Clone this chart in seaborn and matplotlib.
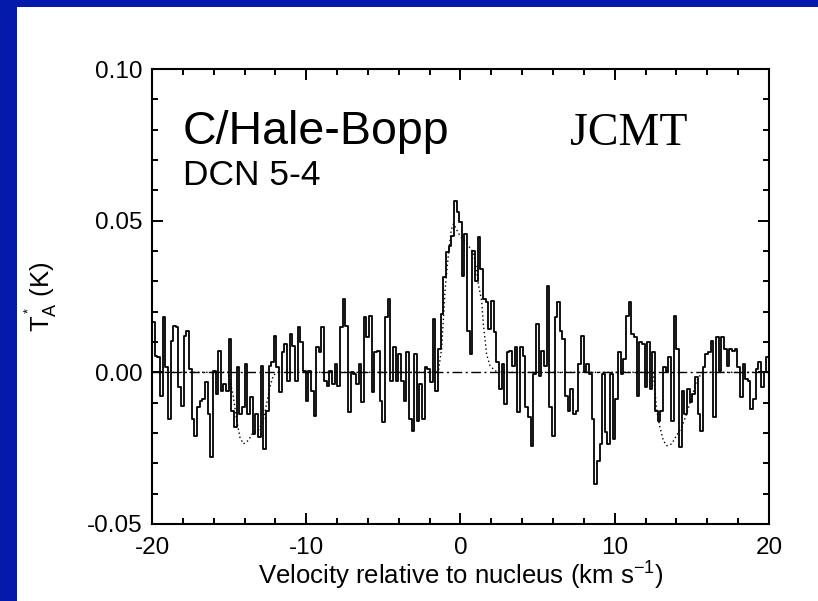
import numpy as np
import pandas as pd
import matplotlib
matplotlib.use('Agg')
import matplotlib.pyplot as plt
from matplotlib.patches import Rectangle
from matplotlib.ticker import MultipleLocator
import seaborn as sns

# DCN 5-4 spectrum of C/Hale-Bopp (JCMT), antenna temperature in mK per channel
spec_mK = [
    16.5, 5.5, 4.9, -7.7, 18.1, 1.6, -15.4, 10.4, 15.2, 14.8,
    -4.9, -11.0, 12.1, 13.7, 1.1, -15.4, -20.9, -11.5, -9.3, -8.8,
    -3.3, -13.7, -27.8, 0.5, -7.1, 7.1, -6.0, -3.8, -6.0, 11.0,
    -12.6, -18.1, 1.6, -13.7, -11.5, 2.7, -13.7, -8.2, -20.3, -13.7,
    -21.4, 2.2, -25.3, -12.6, 2.2, 3.3, 12.1, 1.6, -6.6, 6.6,
    9.3, -2.7, 12.6, 8.8, -2.7, 14.8, 9.9, 0.5, -9.3, 0.5,
    -6.0, -14.3, 8.2, 6.6, 14.8, -2.7, -4.4, 0.5, -3.8, 2.7,
    -4.4, 14.8, 24.2, 15.4, -13.2, 0.0, -0.5, -3.8, 2.7, -9.9,
    18.1, 11.5, 18.7, -6.6, 6.6, 7.1, -9.3, -16.5, 18.1, 24.2,
    -2.7, 8.2, -2.7, 6.0, -2.7, -9.3, 6.6, -15.4, -19.2, 6.0,
    -15.9, -3.8, -15.4, 1.6, 1.1, -3.3, 17.6, -6.0, 7.7, 19.2,
    31.3, 39.6, 41.8, 45.1, 56.6, 52.7, 49.5, 31.9, 45.6, 13.7,
    6.0, 40.1, 30.2, 44.5, 34.1, 24.2, 23.1, 14.3, 23.6, 13.2,
    3.3, -5.5, 2.7, -10.4, 6.6, 7.1, 2.2, 8.2, -13.2, 8.2,
    5.5, -11.5, -14.8, -24.2, -0.5, 15.9, -1.1, 7.1, 2.2, 28.6,
    -11.5, -20.9, 18.1, 23.1, 13.7, 11.0, -7.7, -12.6, -5.5, -13.7,
    -12.6, 2.7, 12.1, 0.0, 2.7, -0.5, -15.4, -36.8, -29.1, -23.6,
    -0.5, -19.8, -23.6, -0.5, -22.0, -8.8, 6.6, -0.5, 4.4, 18.7,
    23.1, 12.6, 11.5, -7.7, 9.9, 9.3, -4.9, 9.9, -5.5, 6.6,
    -12.6, -15.9, -12.6, 1.6, 0.0, 4.9, -15.9, 18.7, 7.7, -24.7,
    -6.0, -13.7, -5.5, -9.9, -7.1, -1.6, -13.7, -19.2, 1.6, 6.0,
    6.6, 10.4, -14.8, 11.5, 0.5, 11.5, 7.7, 2.2, 7.7, 7.1,
    7.7, 1.6, -8.2, 2.7, -2.2, -2.7, -12.1, -8.8, 1.1, 3.3,
    -4.9, 0.0, 4.9,
]

# fitted model (dotted): line at 0 km/s and its negative frequency-switch ghosts
model_v = [-20, -15.3, -15.05, -14.73, -14.5, -14.3, -14.08, -13.76, -13.44, -13.11,
           -12.79, -12.57, -12.36, -12.14, -11.9, -1.6, -1.43, -1.22, -1.0, -0.8,
           -0.6, -0.45, -0.25, -0.03, 0.3, 0.62, 0.83, 1.0, 1.16, 1.37,
           1.48, 1.69, 1.91, 2.24, 2.6, 12.3, 12.5, 12.72, 12.93, 13.15,
           13.37, 13.69, 14.0, 14.34, 14.66, 14.99, 15.31, 15.64, 15.9, 20]
model_mK = [0, 0, 0, -8, -16, -21.4, -23.6, -22.5, -19.8, -19.2,
            -15.9, -10.4, -4.9, -1.1, 0, 0, 0.5, 8, 27, 38,
            47, 49, 47, 45, 43, 41, 39.6, 35, 29, 23.6,
            16, 6, 2.2, 0.5, 0, 0, 0, -12.6, -18.1, -22.5,
            -24.2, -23.6, -20.9, -18.1, -13.7, -8.2, -2.7, -0.3, 0, 0]

xticks = [-20, -10, 0, 10, 20]
xtick_labels = ['-20', '-10', '0', '10', '20']
yticks = [-0.05, 0.0, 0.05, 0.10]
ytick_labels = ['-0.05', '0.00', '0.05', '0.10']

# channel grid
n = len(spec_mK)
edges = np.linspace(-20, 20, n + 1)
centers = 0.5 * (edges[:-1] + edges[1:])
spec = pd.DataFrame({'v': centers, 'T': np.array(spec_mK) / 1000.0})
model = pd.DataFrame({'v': model_v, 'T': np.array(model_mK) / 1000.0})

sns.set_style('ticks')
plt.rcParams['font.family'] = ['Liberation Sans', 'DejaVu Sans']
plt.rcParams['mathtext.fontset'] = 'custom'
plt.rcParams['mathtext.rm'] = 'Liberation Sans'
plt.rcParams['mathtext.it'] = 'Liberation Sans'
plt.rcParams['axes.unicode_minus'] = False
plt.rcParams['text.color'] = 'black'
plt.rcParams['axes.labelcolor'] = 'black'

fig = plt.figure(figsize=(8.18, 6.01), dpi=100)
fig.patch.set_facecolor('white')
blue = '#041aaa'
fig.add_artist(Rectangle((0, 0), 17 / 818, 1, transform=fig.transFigure,
                         facecolor=blue, edgecolor='none', zorder=0))
fig.add_artist(Rectangle((0, 1 - 7 / 601), 1, 7 / 601, transform=fig.transFigure,
                         facecolor=blue, edgecolor='none', zorder=0))

ax = fig.add_axes([152 / 818, 77 / 601, 617 / 818, 455 / 601])

ax.axhline(0, color='black', lw=1.0, ls=(0, (7, 2.5, 1.5, 2.5)), zorder=1)
sns.lineplot(data=model, x='v', y='T', ax=ax, color='black', lw=1.0,
             ls=(0, (1, 2)), estimator=None, sort=False, zorder=2)
sns.lineplot(data=spec, x='v', y='T', ax=ax, color='black', lw=1.3,
             drawstyle='steps-mid', estimator=None, zorder=3)

ax.set_xlim(-20, 20)
ax.set_ylim(-0.05, 0.10)
ax.set_xticks(xticks)
ax.set_xticklabels(xtick_labels)
ax.set_yticks(yticks)
ax.set_yticklabels(ytick_labels)
ax.xaxis.set_minor_locator(MultipleLocator(2))
ax.yaxis.set_minor_locator(MultipleLocator(0.01))
ax.tick_params(which='both', direction='in', top=True, right=True,
               width=1.4, labelsize=17.5, colors='black')
ax.tick_params(which='major', length=8)
ax.tick_params(which='minor', length=4.3)
ax.tick_params(axis='x', pad=9)
ax.tick_params(axis='y', pad=7)
for s in ax.spines.values():
    s.set_linewidth(1.5)
    s.set_color('black')

ax.set_xlabel('Velocity relative to nucleus (km s$^{{-}1}$)', fontsize=18.5, labelpad=1)
ax.set_ylabel('T$_{\\rm A}^{^*}$ (K)', fontsize=18.5)
ax.yaxis.set_label_coords(-0.15, 0.5)

ax.text(0.05, 0.835, 'C/Hale-Bopp', transform=ax.transAxes, fontsize=33.5,
        ha='left', va='baseline')
ax.text(0.051, 0.745, 'DCN 5-4', transform=ax.transAxes, fontsize=25.5,
        ha='left', va='baseline')
ax.text(0.677, 0.833, 'JCMT', transform=ax.transAxes, fontsize=33,
        family='Liberation Serif', ha='left', va='baseline')

fig.savefig('out.png', dpi=100, facecolor=fig.get_facecolor())
